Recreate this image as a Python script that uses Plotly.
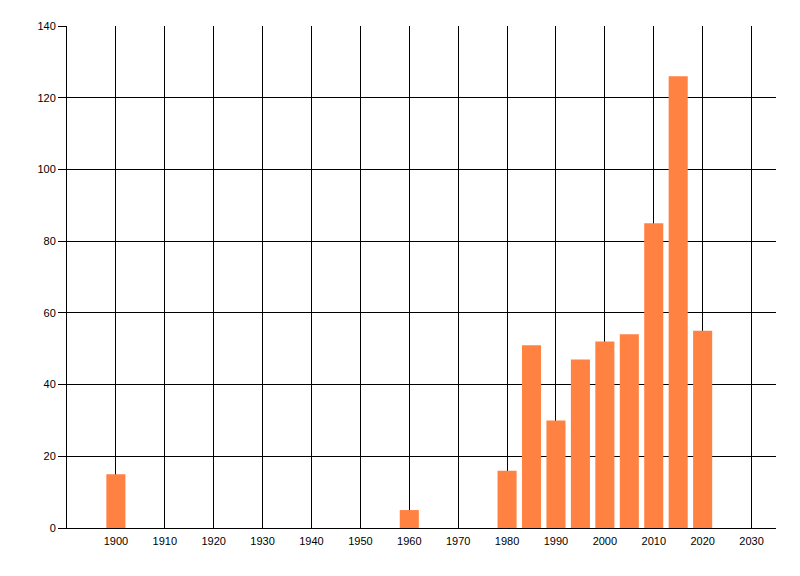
import plotly.graph_objects as go

years = [1900, 1960, 1980, 1985, 1990, 1995, 2000, 2005, 2010, 2015, 2020]
counts = [15, 5, 16, 51, 30, 47, 52, 54, 85, 126, 55]
x_ticks = list(range(1900, 2031, 10))
y_ticks = list(range(0, 141, 20))

fig = go.Figure()
fig.add_trace(go.Bar(
    x=years, y=counts, width=3.9,
    marker=dict(color="#FF8243", line=dict(width=0)),
))

font = dict(family="Liberation Sans, Arial, sans-serif", size=11, color="#000000")
fig.update_layout(
    width=800, height=576,
    margin=dict(l=59, r=32, t=18, b=56),
    paper_bgcolor="white", plot_bgcolor="white",
    showlegend=False, font=font,
    xaxis=dict(range=[1890, 2035], tickvals=x_ticks, ticktext=[str(v) for v in x_ticks],
               showgrid=True, gridcolor="#000000", gridwidth=1,
               showline=True, linecolor="#000000", linewidth=1,
               ticks="", zeroline=False, tickfont=font, ticklabelstandoff=3),
    yaxis=dict(range=[0, 140], tickvals=y_ticks,
               showgrid=True, gridcolor="#000000", gridwidth=1,
               showline=True, linecolor="#000000", linewidth=1,
               ticks="outside", ticklen=8, tickcolor="#000000",
               zeroline=False, tickfont=font),
)
fig.write_html("out.html")
